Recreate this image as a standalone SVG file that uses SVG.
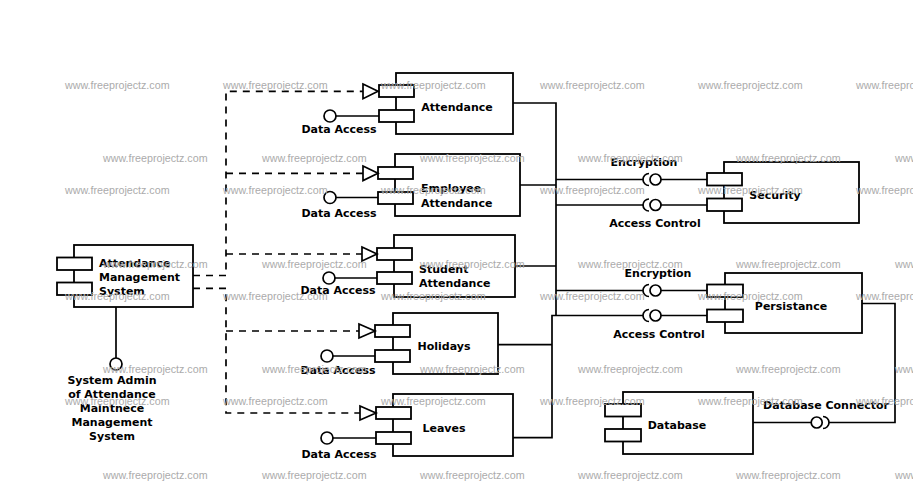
<svg xmlns="http://www.w3.org/2000/svg" width="913" height="486" viewBox="0 0 913 486">
<style>
.box{fill:#fff;stroke:#000;stroke-width:1.8}
.port{fill:#fff;stroke:#000;stroke-width:1.8}
.ln{fill:none;stroke:#000;stroke-width:1.7}
.dash{fill:none;stroke:#000;stroke-width:1.7;stroke-dasharray:7 6}
.tri{fill:#fff;stroke:#000;stroke-width:1.7}
.ball{fill:#fff;stroke:#000;stroke-width:1.7}
.lbl{font-family:"DejaVu Sans",sans-serif;font-weight:bold;font-size:11px;fill:#000}
.mid{text-anchor:middle}
.wm{font-family:"Liberation Sans",Arial,sans-serif;font-size:10.7px;fill:#ababab}
</style>
<rect width="913" height="486" fill="#fff"/>

<g id="connectors">
  <path class="dash" d="M193,275.5 H226 V91.3 H363"/>
  <path class="dash" d="M226,173.3 H363"/>
  <path class="dash" d="M226,254 H362"/>
  <path class="dash" d="M193,288.3 H226 V413 H360"/>
  <path class="dash" d="M226,331 H359"/>
  <path class="ln" d="M513,103 H556 V315.5"/>
  <path class="ln" d="M520,185 H556"/>
  <path class="ln" d="M515,266 H556"/>
  <path class="ln" d="M498,344.7 H552"/>
  <path class="ln" d="M513,437.7 H552 V315.5 H643"/>
  <path class="ln" d="M556,179.5 H643"/>
  <path class="ln" d="M556,205 H643"/>
  <path class="ln" d="M556,290.5 H643"/>
  <path class="ln" d="M862,303.5 H895 V422.5 H829"/>
  <path class="ln" d="M753,422.5 H811"/>
  <path class="ln" d="M116,307 V358"/>
</g>

<g id="ams">
  <rect class="box" x="74" y="245" width="119" height="62"/>
  <rect class="port" x="57" y="257.5" width="35" height="12.5"/>
  <rect class="port" x="57" y="282.5" width="35" height="12.5"/>
  <text class="lbl" x="99" y="267">Attendance</text>
  <text class="lbl" x="99" y="281">Management</text>
  <text class="lbl" x="99" y="295">System</text>
</g>

<g id="admin-interface">
  <circle class="ball" cx="116" cy="364" r="6"/>
  <text class="lbl mid" x="112" y="384">System Admin</text>
  <text class="lbl mid" x="112" y="398">of Attendance</text>
  <text class="lbl mid" x="112" y="412">Maintnece</text>
  <text class="lbl mid" x="112" y="426">Management</text>
  <text class="lbl mid" x="112" y="440">System</text>
</g>

<g id="attendance">
  <rect class="box" x="396" y="73" width="117" height="61"/>
  <rect class="port" x="379" y="85" width="35" height="12"/>
  <rect class="port" x="379" y="110" width="35" height="12"/>
  <text class="lbl mid" x="457" y="110.5">Attendance</text>
  <polygon class="tri" points="363,84 378,91.3 363,98.7"/>
  <path class="ln" d="M336,116 H379"/>
  <circle class="ball" cx="330" cy="116" r="6"/>
  <text class="lbl mid" x="339" y="133">Data Access</text>
</g>

<g id="employee-attendance">
  <rect class="box" x="395" y="154" width="125" height="62"/>
  <rect class="port" x="378" y="167" width="35" height="12"/>
  <rect class="port" x="378" y="192" width="35" height="12"/>
  <text class="lbl" x="421" y="191.5">Employee</text>
  <text class="lbl" x="421" y="206.5">Attendance</text>
  <polygon class="tri" points="363,166 378,173.3 363,180.6"/>
  <path class="ln" d="M336,197.5 H378"/>
  <circle class="ball" cx="330" cy="197.5" r="6"/>
  <text class="lbl mid" x="339" y="216.5">Data Access</text>
</g>

<g id="student-attendance">
  <rect class="box" x="394" y="235" width="121" height="62"/>
  <rect class="port" x="377" y="248" width="35" height="12"/>
  <rect class="port" x="377" y="272" width="35" height="12"/>
  <text class="lbl" x="419" y="272.5">Student</text>
  <text class="lbl" x="419" y="286.5">Attendance</text>
  <polygon class="tri" points="362,247 377,254 362,261"/>
  <path class="ln" d="M335,278 H377"/>
  <circle class="ball" cx="329" cy="278" r="6"/>
  <text class="lbl mid" x="338" y="294">Data Access</text>
</g>

<g id="holidays">
  <rect class="box" x="393" y="313" width="105" height="61"/>
  <rect class="port" x="375" y="325" width="35" height="12"/>
  <rect class="port" x="375" y="350" width="35" height="12"/>
  <text class="lbl mid" x="444" y="350">Holidays</text>
  <polygon class="tri" points="359,324 375,331 359,338"/>
  <path class="ln" d="M333,356 H375"/>
  <circle class="ball" cx="327" cy="356" r="6"/>
  <text class="lbl mid" x="338" y="374">Data Access</text>
</g>

<g id="leaves">
  <rect class="box" x="393" y="394" width="120" height="62"/>
  <rect class="port" x="376" y="407" width="35" height="12"/>
  <rect class="port" x="376" y="432" width="35" height="12"/>
  <text class="lbl mid" x="444" y="431.5">Leaves</text>
  <polygon class="tri" points="360,406 376,413 360,420"/>
  <path class="ln" d="M333,438 H376"/>
  <circle class="ball" cx="327" cy="438" r="6"/>
  <text class="lbl mid" x="339" y="458">Data Access</text>
</g>

<g id="security">
  <rect class="box" x="724" y="162" width="135" height="61"/>
  <rect class="port" x="707" y="173" width="35" height="12.5"/>
  <rect class="port" x="707" y="198.5" width="35" height="12.5"/>
  <text class="lbl mid" x="775" y="198.5">Security</text>
  <path class="ln" d="M649,173.5 A6,6 0 0 0 649,185.5"/>
  <circle class="ball" cx="655.5" cy="179.5" r="5.5"/>
  <path class="ln" d="M661,179.5 H707"/>
  <path class="ln" d="M649,199 A6,6 0 0 0 649,211"/>
  <circle class="ball" cx="655.5" cy="205" r="5.5"/>
  <path class="ln" d="M661,205 H707"/>
  <text class="lbl mid" x="644" y="166">Encryption</text>
  <text class="lbl mid" x="655" y="227">Access Control</text>
</g>

<g id="persistance">
  <rect class="box" x="725" y="273" width="137" height="60"/>
  <rect class="port" x="707" y="284.5" width="36" height="12.5"/>
  <rect class="port" x="707" y="309.5" width="36" height="12.5"/>
  <text class="lbl mid" x="791" y="309.5">Persistance</text>
  <path class="ln" d="M649,284.5 A6,6 0 0 0 649,296.5"/>
  <circle class="ball" cx="655.5" cy="290.5" r="5.5"/>
  <path class="ln" d="M661,290.5 H707"/>
  <path class="ln" d="M649,309.5 A6,6 0 0 0 649,321.5"/>
  <circle class="ball" cx="655.5" cy="315.5" r="5.5"/>
  <path class="ln" d="M661,315.5 H707"/>
  <text class="lbl mid" x="658" y="276.5">Encryption</text>
  <text class="lbl mid" x="659" y="337.5">Access Control</text>
</g>

<g id="database">
  <rect class="box" x="623" y="392" width="130" height="62"/>
  <rect class="port" x="605" y="404" width="36" height="12.5"/>
  <rect class="port" x="605" y="429" width="36" height="12.5"/>
  <text class="lbl mid" x="677" y="429">Database</text>
  <circle class="ball" cx="816.7" cy="422.5" r="5.5"/>
  <path class="ln" d="M823,416.5 A6,6 0 0 1 823,428.5"/>
  <text class="lbl mid" x="826" y="409">Database Connector</text>
</g>

<g id="watermarks">
  <text class="wm" x="65" y="89">www.freeprojectz.com</text>
  <text class="wm" x="223" y="89">www.freeprojectz.com</text>
  <text class="wm" x="381" y="89">www.freeprojectz.com</text>
  <text class="wm" x="540" y="89">www.freeprojectz.com</text>
  <text class="wm" x="698" y="89">www.freeprojectz.com</text>
  <text class="wm" x="856" y="89">www.freeprojectz.com</text>
  <text class="wm" x="103" y="162">www.freeprojectz.com</text>
  <text class="wm" x="262" y="162">www.freeprojectz.com</text>
  <text class="wm" x="420" y="162">www.freeprojectz.com</text>
  <text class="wm" x="578" y="162">www.freeprojectz.com</text>
  <text class="wm" x="736" y="162">www.freeprojectz.com</text>
  <text class="wm" x="895" y="162">www.freeprojectz.com</text>
  <text class="wm" x="65" y="194">www.freeprojectz.com</text>
  <text class="wm" x="223" y="194">www.freeprojectz.com</text>
  <text class="wm" x="381" y="194">www.freeprojectz.com</text>
  <text class="wm" x="540" y="194">www.freeprojectz.com</text>
  <text class="wm" x="698" y="194">www.freeprojectz.com</text>
  <text class="wm" x="856" y="194">www.freeprojectz.com</text>
  <text class="wm" x="103" y="268">www.freeprojectz.com</text>
  <text class="wm" x="262" y="268">www.freeprojectz.com</text>
  <text class="wm" x="420" y="268">www.freeprojectz.com</text>
  <text class="wm" x="578" y="268">www.freeprojectz.com</text>
  <text class="wm" x="736" y="268">www.freeprojectz.com</text>
  <text class="wm" x="895" y="268">www.freeprojectz.com</text>
  <text class="wm" x="65" y="300">www.freeprojectz.com</text>
  <text class="wm" x="223" y="300">www.freeprojectz.com</text>
  <text class="wm" x="381" y="300">www.freeprojectz.com</text>
  <text class="wm" x="540" y="300">www.freeprojectz.com</text>
  <text class="wm" x="698" y="300">www.freeprojectz.com</text>
  <text class="wm" x="856" y="300">www.freeprojectz.com</text>
  <text class="wm" x="103" y="373">www.freeprojectz.com</text>
  <text class="wm" x="262" y="373">www.freeprojectz.com</text>
  <text class="wm" x="420" y="373">www.freeprojectz.com</text>
  <text class="wm" x="578" y="373">www.freeprojectz.com</text>
  <text class="wm" x="736" y="373">www.freeprojectz.com</text>
  <text class="wm" x="895" y="373">www.freeprojectz.com</text>
  <text class="wm" x="65" y="405">www.freeprojectz.com</text>
  <text class="wm" x="223" y="405">www.freeprojectz.com</text>
  <text class="wm" x="381" y="405">www.freeprojectz.com</text>
  <text class="wm" x="540" y="405">www.freeprojectz.com</text>
  <text class="wm" x="698" y="405">www.freeprojectz.com</text>
  <text class="wm" x="856" y="405">www.freeprojectz.com</text>
  <text class="wm" x="103" y="479">www.freeprojectz.com</text>
  <text class="wm" x="262" y="479">www.freeprojectz.com</text>
  <text class="wm" x="420" y="479">www.freeprojectz.com</text>
  <text class="wm" x="578" y="479">www.freeprojectz.com</text>
  <text class="wm" x="736" y="479">www.freeprojectz.com</text>
  <text class="wm" x="895" y="479">www.freeprojectz.com</text>
</g>
</svg>
